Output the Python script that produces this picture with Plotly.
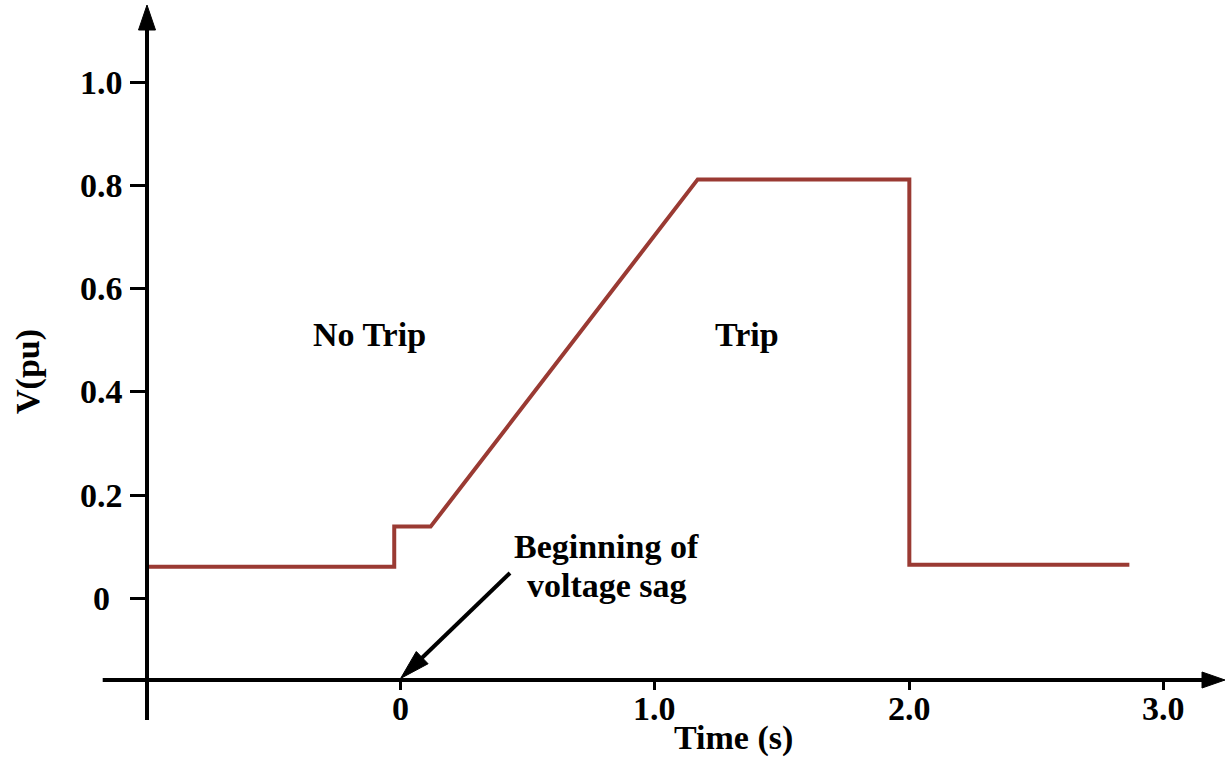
import math
import plotly.graph_objects as go

# Trip characteristic: voltage threshold (pu) versus time since sag onset (s)
time_s = [-1.0, -0.025, -0.025, 0.118, 1.168, 2.0, 2.0, 2.865]
volt_pu = [0.061, 0.061, 0.139, 0.139, 0.812, 0.812, 0.065, 0.065]

x_ticks = [0, 1, 2, 3]
x_tick_text = ["0", "1.0", "2.0", "3.0"]
y_ticks = [0, 0.2, 0.4, 0.6, 0.8, 1.0]
y_tick_text = ["0", "0.2", "0.4", "0.6", "0.8", "1.0"]

# Page / plot geometry
W, H = 1225, 763
ML, MR, MT, MB = 147, 0, 5, 83
PW, PH = W - ML - MR, H - MT - MB
X_RANGE = [-0.997, 3.241]
Y_RANGE = [-0.1583, 1.150]

FONT = "Liberation Serif"
FS = 34
LINE_COLOR = "#9a3a33"
AXIS_W = 4


def xpaper_from_px(px):
    return (px - ML) / PW


def ypaper_from_px(py):
    return (H - MB - py) / PH


def px_of(t):
    return ML + (t - X_RANGE[0]) / (X_RANGE[1] - X_RANGE[0]) * PW


def py_of(v):
    return H - MB - (v - Y_RANGE[0]) / (Y_RANGE[1] - Y_RANGE[0]) * PH


fig = go.Figure()
fig.add_trace(go.Scatter(
    x=time_s, y=volt_pu, mode="lines",
    line=dict(color=LINE_COLOR, width=4),
    hoverinfo="skip", showlegend=False,
))

shapes = []
# axis lines (extend past the plot corner like a hand-drawn frame)
shapes.append(dict(type="line", xref="paper", yref="paper",
                   x0=0, x1=0, y0=ypaper_from_px(720), y1=ypaper_from_px(20),
                   line=dict(color="black", width=AXIS_W)))
shapes.append(dict(type="line", xref="paper", yref="paper",
                   x0=xpaper_from_px(102.7), x1=xpaper_from_px(1210), y0=0, y1=0,
                   line=dict(color="black", width=AXIS_W)))
# axis arrowheads (pixel-sized triangles)
shapes.append(dict(type="path", xref="paper", yref="paper",
                   xsizemode="pixel", ysizemode="pixel", xanchor=0, yanchor=1,
                   path="M0,0 L-8.5,-25 L8.5,-25 Z",
                   fillcolor="black", line=dict(color="black", width=1)))
shapes.append(dict(type="path", xref="paper", yref="paper",
                   xsizemode="pixel", ysizemode="pixel", xanchor=1, yanchor=0,
                   path="M0,0 L-23,8 L-23,-8 Z",
                   fillcolor="black", line=dict(color="black", width=1)))

# pointer from the label to the sag onset on the time axis
tail_t, tail_v = 0.430, 0.049
head_t, head_v = 0.0, Y_RANGE[0] + 0.003
hx, hy = px_of(head_t), py_of(head_v)
tx, ty = px_of(tail_t), py_of(tail_v)
L = math.hypot(hx - tx, hy - ty)
ux, uy = (hx - tx) / L, -(hy - ty) / L  # direction, y up
nx, ny = -uy, ux
head_len, half_w = 30, 8.5
bx, by = -head_len * ux, -head_len * uy
shapes.append(dict(type="line", xref="x", yref="y",
                   x0=tail_t, y0=tail_v,
                   x1=X_RANGE[0] + (hx + bx * 0.6 - ML) / PW * (X_RANGE[1] - X_RANGE[0]),
                   y1=Y_RANGE[0] + (H - MB - (hy - by * 0.6)) / PH * (Y_RANGE[1] - Y_RANGE[0]),
                   line=dict(color="black", width=4)))
shapes.append(dict(type="path", xref="x", yref="y",
                   xsizemode="pixel", ysizemode="pixel", xanchor=head_t, yanchor=head_v,
                   path=(f"M0,0 L{bx + half_w * nx:.2f},{by + half_w * ny:.2f} "
                         f"L{bx - half_w * nx:.2f},{by - half_w * ny:.2f} Z"),
                   fillcolor="black", line=dict(color="black", width=1)))

annotations = []
bold = dict(family=FONT, size=FS, color="black", weight="bold")
for v, txt in zip(y_ticks, y_tick_text):
    annotations.append(dict(x=xpaper_from_px(101), xref="paper", y=v, yref="y",
                            text=txt, showarrow=False, xanchor="center", yanchor="middle",
                            font=bold))
for t, txt in zip(x_ticks, x_tick_text):
    annotations.append(dict(x=t, xref="x", y=ypaper_from_px(708), yref="paper",
                            text=txt, showarrow=False, xanchor="center", yanchor="middle",
                            font=bold))
annotations += [
    dict(x=-0.121, y=0.512, xref="x", yref="y", text="No Trip", showarrow=False,
         xanchor="center", yanchor="middle", font=bold),
    dict(x=1.362, y=0.512, xref="x", yref="y", text="Trip", showarrow=False,
         xanchor="center", yanchor="middle", font=bold),
    dict(x=0.81, y=0.1004, xref="x", yref="y", text="Beginning of", showarrow=False,
         xanchor="center", yanchor="middle", font=bold),
    dict(x=0.81, y=0.0248, xref="x", yref="y", text="voltage sag", showarrow=False,
         xanchor="center", yanchor="middle", font=bold),
    dict(x=xpaper_from_px(733), y=ypaper_from_px(738), xref="paper", yref="paper",
         text="Time (s)", showarrow=False, xanchor="center", yanchor="middle", font=bold),
    dict(x=xpaper_from_px(28), y=ypaper_from_px(372), xref="paper", yref="paper",
         text="V(pu)", textangle=-90, showarrow=False, xanchor="center", yanchor="middle",
         font=bold),
]

fig.update_layout(
    width=W, height=H,
    margin=dict(l=ML, r=MR, t=MT, b=MB, pad=0),
    paper_bgcolor="white", plot_bgcolor="white",
    shapes=shapes, annotations=annotations,
    xaxis=dict(range=X_RANGE, showgrid=False, zeroline=False, showline=False,
               tickmode="array", tickvals=x_ticks, ticks="outside",
               ticklen=9, tickwidth=3, tickcolor="black", showticklabels=False),
    yaxis=dict(range=Y_RANGE, showgrid=False, zeroline=False, showline=False,
               tickmode="array", tickvals=y_ticks, ticks="outside",
               ticklen=16, tickwidth=3, tickcolor="black", showticklabels=False),
)

fig.write_html("out.html")
